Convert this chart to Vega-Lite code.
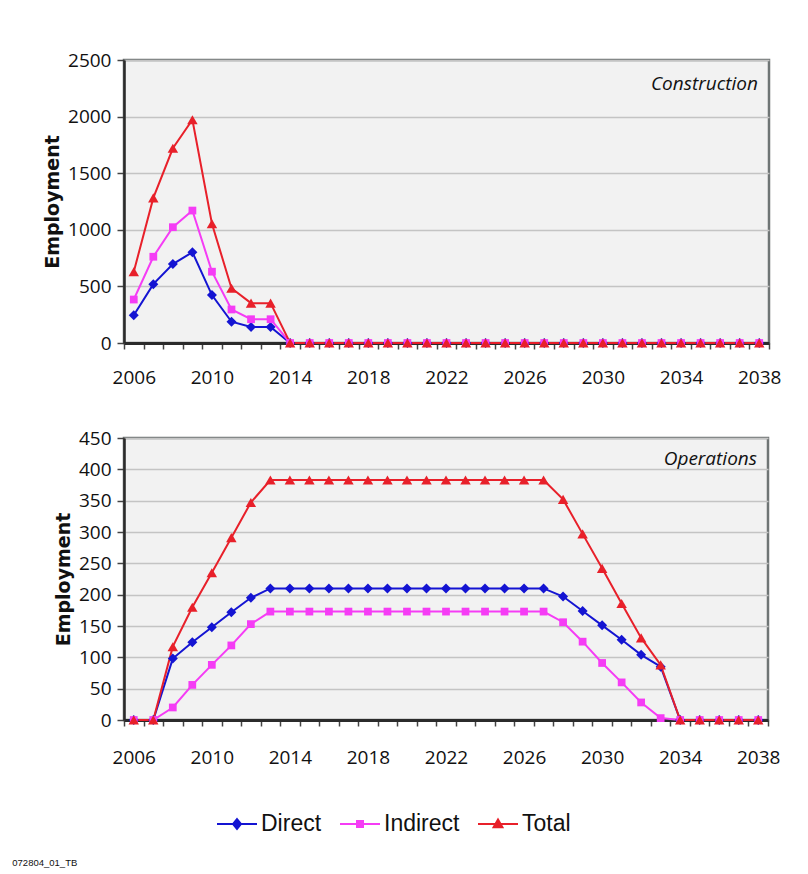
{
  "$schema": "https://vega.github.io/schema/vega-lite/v6.json",
  "background": "white",
  "padding": {"left": 12, "top": 49, "right": 30, "bottom": 4},
  "title": {"text": "072804_01_TB", "orient": "bottom", "anchor": "start", "frame": "bounds", "font": "Liberation Sans", "fontSize": 9.5, "fontWeight": "normal", "color": "#111", "dx": -30, "offset": 22},
  "datasets": {
    "construction": [
      {"year": 2006, "Direct": 245, "Indirect": 384, "Total": 629},
      {"year": 2007, "Direct": 520, "Indirect": 762, "Total": 1282},
      {"year": 2008, "Direct": 697, "Indirect": 1023, "Total": 1720},
      {"year": 2009, "Direct": 802, "Indirect": 1170, "Total": 1972},
      {"year": 2010, "Direct": 423, "Indirect": 630, "Total": 1053},
      {"year": 2011, "Direct": 188, "Indirect": 296, "Total": 484},
      {"year": 2012, "Direct": 142, "Indirect": 210, "Total": 352},
      {"year": 2013, "Direct": 142, "Indirect": 210, "Total": 352},
      {"year": 2014, "Direct": 0, "Indirect": 0, "Total": 0},
      {"year": 2015, "Direct": 0, "Indirect": 0, "Total": 0},
      {"year": 2016, "Direct": 0, "Indirect": 0, "Total": 0},
      {"year": 2017, "Direct": 0, "Indirect": 0, "Total": 0},
      {"year": 2018, "Direct": 0, "Indirect": 0, "Total": 0},
      {"year": 2019, "Direct": 0, "Indirect": 0, "Total": 0},
      {"year": 2020, "Direct": 0, "Indirect": 0, "Total": 0},
      {"year": 2021, "Direct": 0, "Indirect": 0, "Total": 0},
      {"year": 2022, "Direct": 0, "Indirect": 0, "Total": 0},
      {"year": 2023, "Direct": 0, "Indirect": 0, "Total": 0},
      {"year": 2024, "Direct": 0, "Indirect": 0, "Total": 0},
      {"year": 2025, "Direct": 0, "Indirect": 0, "Total": 0},
      {"year": 2026, "Direct": 0, "Indirect": 0, "Total": 0},
      {"year": 2027, "Direct": 0, "Indirect": 0, "Total": 0},
      {"year": 2028, "Direct": 0, "Indirect": 0, "Total": 0},
      {"year": 2029, "Direct": 0, "Indirect": 0, "Total": 0},
      {"year": 2030, "Direct": 0, "Indirect": 0, "Total": 0},
      {"year": 2031, "Direct": 0, "Indirect": 0, "Total": 0},
      {"year": 2032, "Direct": 0, "Indirect": 0, "Total": 0},
      {"year": 2033, "Direct": 0, "Indirect": 0, "Total": 0},
      {"year": 2034, "Direct": 0, "Indirect": 0, "Total": 0},
      {"year": 2035, "Direct": 0, "Indirect": 0, "Total": 0},
      {"year": 2036, "Direct": 0, "Indirect": 0, "Total": 0},
      {"year": 2037, "Direct": 0, "Indirect": 0, "Total": 0},
      {"year": 2038, "Direct": 0, "Indirect": 0, "Total": 0}
    ],
    "operations": [
      {"year": 2006, "Direct": 0, "Indirect": 0, "Total": 0},
      {"year": 2007, "Direct": 0, "Indirect": 0, "Total": 0},
      {"year": 2008, "Direct": 98, "Indirect": 20, "Total": 117},
      {"year": 2009, "Direct": 124, "Indirect": 56, "Total": 180},
      {"year": 2010, "Direct": 148, "Indirect": 88, "Total": 235},
      {"year": 2011, "Direct": 172, "Indirect": 119, "Total": 291},
      {"year": 2012, "Direct": 195, "Indirect": 153, "Total": 347},
      {"year": 2013, "Direct": 210, "Indirect": 173, "Total": 383},
      {"year": 2014, "Direct": 210, "Indirect": 173, "Total": 383},
      {"year": 2015, "Direct": 210, "Indirect": 173, "Total": 383},
      {"year": 2016, "Direct": 210, "Indirect": 173, "Total": 383},
      {"year": 2017, "Direct": 210, "Indirect": 173, "Total": 383},
      {"year": 2018, "Direct": 210, "Indirect": 173, "Total": 383},
      {"year": 2019, "Direct": 210, "Indirect": 173, "Total": 383},
      {"year": 2020, "Direct": 210, "Indirect": 173, "Total": 383},
      {"year": 2021, "Direct": 210, "Indirect": 173, "Total": 383},
      {"year": 2022, "Direct": 210, "Indirect": 173, "Total": 383},
      {"year": 2023, "Direct": 210, "Indirect": 173, "Total": 383},
      {"year": 2024, "Direct": 210, "Indirect": 173, "Total": 383},
      {"year": 2025, "Direct": 210, "Indirect": 173, "Total": 383},
      {"year": 2026, "Direct": 210, "Indirect": 173, "Total": 383},
      {"year": 2027, "Direct": 210, "Indirect": 173, "Total": 383},
      {"year": 2028, "Direct": 197, "Indirect": 156, "Total": 352},
      {"year": 2029, "Direct": 174, "Indirect": 125, "Total": 297},
      {"year": 2030, "Direct": 151, "Indirect": 91, "Total": 242},
      {"year": 2031, "Direct": 128, "Indirect": 60, "Total": 186},
      {"year": 2032, "Direct": 104, "Indirect": 28, "Total": 131},
      {"year": 2033, "Direct": 85, "Indirect": 3, "Total": 88},
      {"year": 2034, "Direct": 0, "Indirect": 0, "Total": 0},
      {"year": 2035, "Direct": 0, "Indirect": 0, "Total": 0},
      {"year": 2036, "Direct": 0, "Indirect": 0, "Total": 0},
      {"year": 2037, "Direct": 0, "Indirect": 0, "Total": 0},
      {"year": 2038, "Direct": 0, "Indirect": 0, "Total": 0}
    ]
  },
  "columns": 1,
  "spacing": 38,
  "resolve": {"scale": {"color": "shared"}},
  "concat": [
    {
      "width": 645,
      "height": 283,
      "data": {"name": "construction"},
      "transform": [{"fold": ["Direct", "Indirect", "Total"], "as": ["series", "value"]}],
      "encoding": {
        "x": {
          "field": "year", "type": "quantitative",
          "scale": {"domain": [2005.5, 2038.5], "nice": false, "zero": false},
          "axis": {
            "title": null, "grid": false,
            "values": [2005.5, 2006.5, 2007.5, 2008.5, 2009.5, 2010.5, 2011.5, 2012.5, 2013.5, 2014.5, 2015.5, 2016.5, 2017.5, 2018.5, 2019.5, 2020.5, 2021.5, 2022.5, 2023.5, 2024.5, 2025.5, 2026.5, 2027.5, 2028.5, 2029.5, 2030.5, 2031.5, 2032.5, 2033.5, 2034.5, 2035.5, 2036.5, 2037.5, 2038.5],
            "labelExpr": "datum.value % 4 === 1.5 ? format(datum.value + 0.5, 'd') : ''",
            "labelOffset": 9.77, "labelOverlap": false, "labelFlush": false, "labelBound": false,
            "tickSize": 6, "labelPadding": 19, "domainWidth": 3
          }
        },
        "y": {
          "field": "value", "type": "quantitative",
          "scale": {"domain": [0, 2500], "nice": false},
          "axis": {"title": "Employment", "format": "d", "values": [0, 500, 1000, 1500, 2000, 2500], "grid": true, "tickSize": 7, "labelPadding": 6, "titlePadding": 5}
        },
        "color": {
          "field": "series", "type": "nominal",
          "scale": {"domain": ["Direct", "Indirect", "Total"], "range": ["#1414d2", "#f53cf5", "#e8202a"]},
          "legend": {
            "orient": "none", "legendX": 92, "legendY": 743, "direction": "horizontal", "title": null,
            "symbolSize": 1600, "symbolStrokeWidth": 2,
            "labelFont": "Liberation Sans", "labelFontSize": 23, "labelOffset": 3, "columnPadding": 14, "labelColor": "#111",
            "encode": {"symbols": {"update": {
              "shape": {"signal": "datum.value === 'Direct' ? 'M-1,0H1M0,-0.25L0.2,0L0,0.25L-0.2,0Z' : datum.value === 'Indirect' ? 'M-1,0H1M-0.15,-0.15H0.15V0.15H-0.15Z' : 'M-1,0H1M0,-0.22L0.22,0.16H-0.22Z'"},
              "fill": {"scale": "color", "field": "value"},
              "stroke": {"scale": "color", "field": "value"},
              "opacity": {"value": 1}, "fillOpacity": {"value": 1}, "strokeOpacity": {"value": 1}
            }}}
          }
        }
      },
      "layer": [
        {"mark": {"type": "line", "strokeWidth": 2}},
        {"transform": [{"filter": "datum.series === 'Direct'"}], "mark": {"type": "point", "filled": true, "opacity": 1, "shape": "diamond", "size": 100}},
        {"transform": [{"filter": "datum.series === 'Indirect'"}], "mark": {"type": "point", "filled": true, "opacity": 1, "shape": "square", "size": 60}},
        {"transform": [{"filter": "datum.series === 'Total'"}], "mark": {"type": "point", "filled": true, "opacity": 1, "shape": "triangle-up", "size": 110}},
        {
          "transform": [{"filter": "datum.year === 2038 && datum.series === 'Total'"}],
          "mark": {"type": "text", "align": "right", "baseline": "alphabetic", "dx": -11, "dy": 30, "font": "Open Sans", "fontStyle": "italic", "fontSize": 19},
          "encoding": {"x": {"datum": 2038.5}, "y": {"datum": 2500}, "text": {"value": "Construction"}, "color": {"value": "#111"}}
        }
      ]
    },
    {
      "width": 644,
      "height": 282,
      "data": {"name": "operations"},
      "transform": [{"fold": ["Direct", "Indirect", "Total"], "as": ["series", "value"]}],
      "encoding": {
        "x": {
          "field": "year", "type": "quantitative",
          "scale": {"domain": [2005.5, 2038.5], "nice": false, "zero": false},
          "axis": {
            "title": null, "grid": false,
            "values": [2005.5, 2006.5, 2007.5, 2008.5, 2009.5, 2010.5, 2011.5, 2012.5, 2013.5, 2014.5, 2015.5, 2016.5, 2017.5, 2018.5, 2019.5, 2020.5, 2021.5, 2022.5, 2023.5, 2024.5, 2025.5, 2026.5, 2027.5, 2028.5, 2029.5, 2030.5, 2031.5, 2032.5, 2033.5, 2034.5, 2035.5, 2036.5, 2037.5, 2038.5],
            "labelExpr": "datum.value % 4 === 1.5 ? format(datum.value + 0.5, 'd') : ''",
            "labelOffset": 9.76, "labelOverlap": false, "labelFlush": false, "labelBound": false,
            "tickSize": 6, "labelPadding": 22, "domainWidth": 3
          }
        },
        "y": {
          "field": "value", "type": "quantitative",
          "scale": {"domain": [0, 450], "nice": false},
          "axis": {"title": "Employment", "format": "d", "values": [0, 50, 100, 150, 200, 250, 300, 350, 400, 450], "grid": true, "tickSize": 7, "labelPadding": 6, "titlePadding": 5}
        },
        "color": {
          "field": "series", "type": "nominal",
          "scale": {"domain": ["Direct", "Indirect", "Total"], "range": ["#1414d2", "#f53cf5", "#e8202a"]},
          "legend": {
            "orient": "none", "legendX": 92, "legendY": 743, "direction": "horizontal", "title": null,
            "symbolSize": 1600, "symbolStrokeWidth": 2,
            "labelFont": "Liberation Sans", "labelFontSize": 23, "labelOffset": 3, "columnPadding": 14, "labelColor": "#111",
            "encode": {"symbols": {"update": {
              "shape": {"signal": "datum.value === 'Direct' ? 'M-1,0H1M0,-0.25L0.2,0L0,0.25L-0.2,0Z' : datum.value === 'Indirect' ? 'M-1,0H1M-0.15,-0.15H0.15V0.15H-0.15Z' : 'M-1,0H1M0,-0.22L0.22,0.16H-0.22Z'"},
              "fill": {"scale": "color", "field": "value"},
              "stroke": {"scale": "color", "field": "value"},
              "opacity": {"value": 1}, "fillOpacity": {"value": 1}, "strokeOpacity": {"value": 1}
            }}}
          }
        }
      },
      "layer": [
        {"mark": {"type": "line", "strokeWidth": 2}},
        {"transform": [{"filter": "datum.series === 'Direct'"}], "mark": {"type": "point", "filled": true, "opacity": 1, "shape": "diamond", "size": 100}},
        {"transform": [{"filter": "datum.series === 'Indirect'"}], "mark": {"type": "point", "filled": true, "opacity": 1, "shape": "square", "size": 60}},
        {"transform": [{"filter": "datum.series === 'Total'"}], "mark": {"type": "point", "filled": true, "opacity": 1, "shape": "triangle-up", "size": 110}},
        {
          "transform": [{"filter": "datum.year === 2038 && datum.series === 'Total'"}],
          "mark": {"type": "text", "align": "right", "baseline": "alphabetic", "dx": -11, "dy": 27, "font": "Open Sans", "fontStyle": "italic", "fontSize": 19},
          "encoding": {"x": {"datum": 2038.5}, "y": {"datum": 450}, "text": {"value": "Operations"}, "color": {"value": "#111"}}
        }
      ]
    }
  ],
  "config": {
    "view": {"fill": "#f2f2f2", "stroke": "#6f7575", "strokeWidth": 2.5},
    "axis": {"labelFont": "Open Sans", "labelFontSize": 19, "labelColor": "#111", "titleFont": "DejaVu Sans", "titleFontSize": 19, "titleFontWeight": "bold", "titleColor": "#111", "tickColor": "#444", "tickWidth": 1.5, "domainColor": "#2b2b2b", "domainWidth": 2.5, "gridColor": "#c4c4c4", "gridWidth": 1.5}
  }
}
